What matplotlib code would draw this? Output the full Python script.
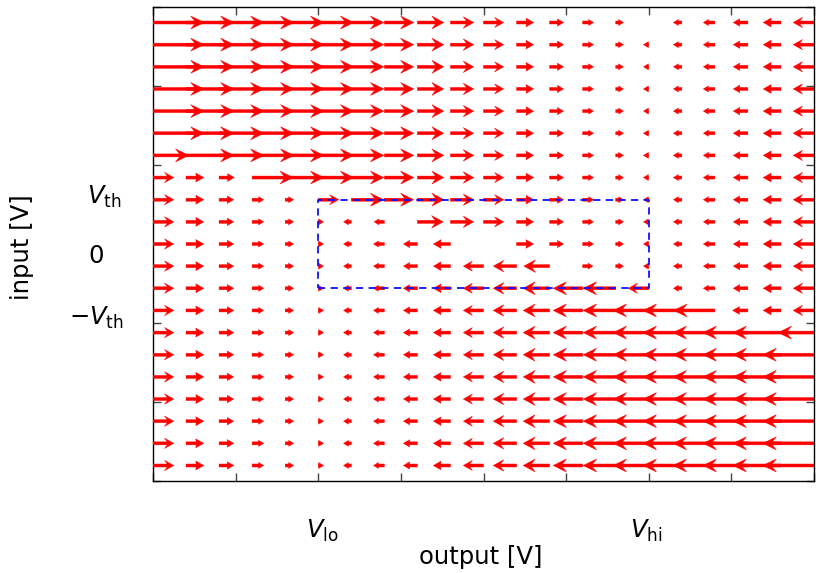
import numpy as np
import matplotlib
matplotlib.use("Agg")
import matplotlib.pyplot as plt
from matplotlib.patches import FancyArrow

plt.rcParams['mathtext.fontset'] = 'dejavusans'
plt.rcParams['font.family'] = ['DejaVu Sans']

# grid of the field: output level (columns) and input level (rows, top to bottom)
output_levels = [0, 1, 2, 3, 4, 5, 6, 7, 8, 9, 10, 11, 12, 13, 14, 15, 16, 17, 18, 19, 20]
input_levels = [10, 9, 8, 7, 6, 5, 4, 3, 2, 1, 0, -1, -2, -3, -4, -5, -6, -7, -8, -9, -10]

# rate of change of the output, read per row of arrows
rate_top = [14.9, 13.9, 12.9, 11.9, 10.9, 9.9, 8.9, 7.9, 6.9, 5.9, 4.9, 3.9, 2.9, 1.9, 0.9, 0.0, -1.1, -2.1, -3.1, -4.1, -5.1]
rate_high = [14.9, 13.9, 12.9, 11.9, 10.9, 9.9, 8.9, 7.9, 6.9, 5.9, 4.9, 3.9, 2.9, 1.9, 0.9, -0.1, -1.1, -2.1, -3.1, -4.1, -5.1]
rate_in4 = [10.0, 13.9, 12.9, 11.9, 10.9, 9.9, 8.9, 7.9, 6.9, 5.9, 4.9, 3.9, 2.9, 1.9, 0.9, -0.1, -1.1, -2.1, -3.1, -4.1, -5.1]
rate_in3 = [5.1, 4.1, 3.3, 11.7, 10.9, 9.9, 8.9, 7.9, 6.9, 5.9, 4.9, 3.9, 2.9, 1.9, 0.9, -0.1, -1.1, -2.1, -3.1, -4.1, -5.1]
rate_in2 = [5.1, 4.1, 3.1, 2.1, 1.1, 5.0, 8.9, 7.9, 6.9, 5.9, 4.9, 3.9, 2.9, 1.9, 0.9, -0.1, -1.1, -2.1, -3.1, -4.1, -5.1]
rate_in1 = [5.1, 4.1, 3.1, 2.1, 1.1, 0.1, -0.9, -1.7, 6.7, 5.9, 4.9, 3.9, 2.9, 1.9, 0.9, -0.1, -1.1, -2.1, -3.1, -4.1, -5.1]
rate_in0 = [5.1, 4.1, 3.1, 2.1, 1.1, 0.1, -0.9, -1.9, -2.9, -3.9, 0.0, 3.9, 2.9, 1.9, 0.9, -0.1, -1.1, -2.1, -3.1, -4.1, -5.1]
rate_inm1 = [5.1, 4.1, 3.1, 2.1, 1.1, 0.1, -0.9, -1.9, -2.9, -3.9, -4.9, -5.9, -6.7, 1.7, 0.9, -0.1, -1.1, -2.1, -3.1, -4.1, -5.1]
rate_inm2 = [5.1, 4.1, 3.1, 2.1, 1.1, 0.1, -0.9, -1.9, -2.9, -3.9, -4.9, -5.9, -6.9, -7.9, -8.9, -5.0, -1.1, -2.1, -3.1, -4.1, -5.1]
rate_inm3 = [5.1, 4.1, 3.1, 2.1, 1.1, 0.1, -0.9, -1.9, -2.9, -3.9, -4.9, -5.9, -6.9, -7.9, -8.9, -9.9, -10.9, -11.7, -3.3, -4.1, -5.1]
rate_inm4 = [5.1, 4.1, 3.1, 2.1, 1.1, 0.1, -0.9, -1.9, -2.9, -3.9, -4.9, -5.9, -6.9, -7.9, -8.9, -9.9, -10.9, -11.9, -12.9, -13.9, -10.0]
rate_low = [5.1, 4.1, 3.1, 2.1, 1.1, 0.1, -0.9, -1.9, -2.9, -3.9, -4.9, -5.9, -6.9, -7.9, -8.9, -9.9, -10.9, -11.9, -12.9, -13.9, -14.9]

rows = [rate_top] + [rate_high] * 5 + [rate_in4, rate_in3, rate_in2, rate_in1, rate_in0,
        rate_inm1, rate_inm2, rate_inm3, rate_inm4] + [rate_low] * 6

v_lo, v_hi = 5, 15
v_th = 2

W, H = 816, 573
fig = plt.figure(figsize=(W/100, H/100), dpi=100)
ax = fig.add_axes([153/W, 1-481/H, (814-153)/W, (481-7)/H])
ax.set_xlim(0, 20)
ax.set_ylim(-10.7, 10.7)

px_x = (814-153) / 20.0
px_y = (481-7) / 21.4

for y, row in zip(input_levels, rows):
    for x, d in zip(output_levels, row):
        if d == 0:
            continue
        L = 3.1*abs(d) + 5
        hl = min(13.5, max(5, 0.45*L))
        hl = min(hl, L)
        hw = min(13, max(5.5, hl + 1))
        ax.add_patch(FancyArrow(x, y, np.sign(d)*L/px_x, 0, width=3.0/px_y,
                                head_width=hw/px_y, head_length=hl/px_x,
                                length_includes_head=True,
                                overhang=0.3 if hl > 9 else 0.05,
                                color='#ff0000', lw=0.3, zorder=3))

# hysteresis window
ax.plot([v_lo, v_hi, v_hi, v_lo, v_lo], [-v_th, -v_th, v_th, v_th, -v_th],
        color='#1010ff', ls=(0, (4, 3)), lw=1.3, zorder=5)

ax.set_xticks(np.linspace(0, 20, 9))
ax.set_yticks(np.linspace(-10.7, 10.7, 7))
ax.tick_params(direction='in', top=True, right=True, length=6, width=1,
               color='#444444', labelbottom=False, labelleft=False)
for s in ax.spines.values():
    s.set_linewidth(1.0)

fs = 17.5
fig.text(104/W, 1-204/H, r'$V_{\mathrm{th}}$', ha='center', va='baseline', fontsize=fs)
fig.text(96/W, 1-263/H, '0', ha='center', va='baseline', fontsize=fs)
fig.text(96/W, 1-325/H, r'$-V_{\mathrm{th}}$', ha='center', va='baseline', fontsize=fs)
fig.text(322/W, 1-538/H, r'$V_{\mathrm{lo}}$', ha='center', va='baseline', fontsize=fs)
fig.text(646/W, 1-538/H, r'$V_{\mathrm{hi}}$', ha='center', va='baseline', fontsize=fs)
fig.text(481/W, 1-564/H, 'output [V]', ha='center', va='baseline', fontsize=fs)
fig.text(22/W, 1-247/H, 'input [V]', ha='center', va='center', rotation=90, fontsize=fs)

fig.savefig('out.png', dpi=100)
